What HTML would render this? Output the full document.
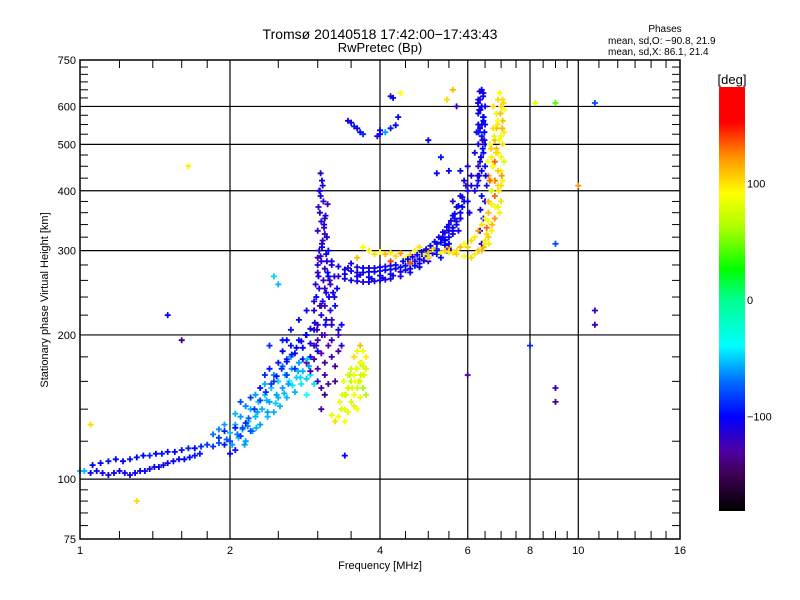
<!DOCTYPE html>
<html><head><meta charset="utf-8">
<style>
html,body{margin:0;padding:0;background:#fff;}
svg{display:block;font-family:"Liberation Sans","DejaVu Sans",sans-serif;}
</style></head>
<body>
<svg id="chart" width="800" height="600" viewBox="0 0 800 600">
<text x="380" y="39" font-size="14" text-anchor="middle">Tromsø 20140518 17:42:00−17:43:43</text>
<text x="380" y="52" font-size="13" text-anchor="middle">RwPretec (Bp)</text>
<text x="665" y="32" font-size="10" text-anchor="middle">Phases</text>
<text x="608" y="44" font-size="10">mean, sd,O: −90.8, 21.9</text>
<text x="608" y="55" font-size="10">mean, sd,X:  86.1, 21.4</text>
<g id="grid"></g>
<g id="ticks"></g>
<g id="marks"></g>
<rect x="80" y="60" width="600" height="479" fill="none" stroke="#000" stroke-width="1.5"/>
<text x="380" y="569" font-size="11" text-anchor="middle">Frequency [MHz]</text>
<text transform="translate(48,300) rotate(-90)" font-size="11" text-anchor="middle">Stationary phase Virtual Height [km]</text>
<defs>
<linearGradient id="cbg" x1="0" y1="1" x2="0" y2="0">
<stop offset="0" stop-color="#000"/>
<stop offset="0.083" stop-color="#3c0050"/>
<stop offset="0.139" stop-color="#5000a0"/>
<stop offset="0.222" stop-color="#0000ff"/>
<stop offset="0.306" stop-color="#006eff"/>
<stop offset="0.389" stop-color="#00ffff"/>
<stop offset="0.5" stop-color="#00ff8c"/>
<stop offset="0.569" stop-color="#00ff00"/>
<stop offset="0.667" stop-color="#aaff00"/>
<stop offset="0.75" stop-color="#ffff00"/>
<stop offset="0.833" stop-color="#ff9600"/>
<stop offset="0.917" stop-color="#ff0000"/>
<stop offset="1" stop-color="#ff0000"/>
</linearGradient>
</defs>
<rect x="719" y="87" width="26" height="424" fill="url(#cbg)"/>
<text x="732" y="84" font-size="13" text-anchor="middle">[deg]</text>
<g id="cbticks"></g>
</svg>
<script>
// ---- axis tick data ----
const xMajor = [1, 2, 4, 6, 8, 10, 16];
const xGrid = [2, 4, 6, 8, 10];
const xMinor = [1.2, 1.4, 1.6, 1.8, 2.5, 3, 3.5, 4.5, 5, 5.5, 6.5, 7, 7.5, 8.5, 9, 9.5, 11, 12, 13, 14, 15];
const yMajor = [75, 100, 200, 300, 400, 500, 600, 750];
const yGrid = [100, 200, 300, 400, 500, 600];
const yMinor = [80, 85, 90, 95, 120, 140, 160, 180, 220, 240, 260, 280, 320, 340, 360, 380, 425, 450, 475, 525, 550, 575, 625, 650, 675, 700, 725];
const cbLabels = [100, 0, -100];

// ---- echo data: frequency [MHz], height [km], phase [deg] ----
const fELow = [1.0,1.02,1.05,1.08,1.11,1.14,1.17,1.2,1.23,1.26,1.29,1.32,1.35,1.38,1.41,1.44,1.47,1.5,1.54,1.58,1.62,1.66,1.7,1.74];
const hELow = [104,104,103,104,103,102,103,104,103,102,103,104,104,105,106,106,107,108,109,110,110,111,112,113];
const pELow = [-55,-55,-105,-105,-105,-105,-105,-105,-105,-105,-105,-100,-105,-105,-105,-100,-105,-105,-100,-105,-100,-100,-95,-95];

const fEHigh = [1.06,1.1,1.14,1.18,1.22,1.26,1.3,1.34,1.38,1.42,1.46,1.5,1.55,1.6,1.65,1.7,1.75,1.8,1.85,1.9];
const hEHigh = [107,108,109,110,109,110,111,112,112,113,113,114,114,115,116,116,117,118,117,119];
const pEHigh = [-100,-100,-95,-100,-100,-95,-100,-100,-90,-100,-95,-100,-100,-95,-90,-100,-90,-85,-85,-80];

const fERise = [2.0,2.02,2.05,2.08,2.1,2.12,2.15,2.18,2.2,2.22,2.25,2.28,2.3,2.32,2.35,2.38,2.4,2.42,2.45,2.48,2.5,2.52,2.55,2.58,2.6,2.63,2.66,2.7,2.72,2.75,2.78,2.8,2.85,2.88,2.9,1.85,1.9,1.95,2.05,2.15,2.25,2.35,2.45,2.55,2.65,2.85,2.95,2.5,2.45,1.97,2.07,2.17,2.27,2.37,2.47,2.57,2.67,2.77];
const hERise = [125,118,130,122,135,127,120,132,140,126,135,145,130,140,150,135,145,155,138,150,160,142,155,165,148,160,170,152,163,175,158,168,162,172,165,124,127,130,137,142,150,158,165,172,180,150,158,255,265,121,124,129,138,146,144,151,157,163];
const pERise = [-55,-60,-55,-50,-60,-55,-60,-50,-55,-60,-55,-50,-60,-55,-50,-55,-60,-50,-55,-60,-50,-55,-60,-50,-55,-45,-60,-55,-50,-60,-45,-55,-50,-60,-45,-70,-65,-60,-55,-65,-60,-55,-65,-70,-60,-40,-45,-55,-50,-75,-70,-65,-60,-55,-50,-55,-45,-50];

const fEBlue = [2.3,2.35,2.4,2.45,2.5,2.55,2.6,2.65,2.7,2.75,2.8,2.85,2.9,2.95,2.6,2.7,2.8,2.9,3.0,2.2,2.1,1.95,2.0,2.05,2.75,2.85,2.65,2.95,2.4,2.55];
const hEBlue = [155,165,170,160,175,185,178,190,183,195,188,200,192,205,165,170,178,180,185,148,145,118,113,115,215,225,205,235,190,195];
const pEBlue = [-95,-90,-95,-85,-95,-100,-90,-95,-100,-95,-100,-95,-105,-100,-85,-90,-95,-100,-105,-85,-80,-95,-100,-95,-100,-105,-95,-110,-90,-95];

const fEPurple = [2.85,2.9,2.95,3.0,3.0,3.05,3.1,3.1,3.15,3.2,3.25,3.3,3.05,3.1,3.0,3.1,3.2,3.25,3.15,2.95,3.35,3.3,3.2,3.05];
const hEPurple = [175,168,178,170,160,183,175,165,190,180,172,185,155,150,195,200,195,160,158,190,190,200,210,140];
const pEPurple = [-130,-125,-135,-130,-120,-130,-135,-125,-130,-120,-135,-125,-130,-140,-125,-130,-120,-135,-130,-125,-115,-120,-110,-135];

const fF1 = [3.0,3.05,3.1,2.98,3.02,3.08,3.12,3.0,3.05,3.1,3.15,3.02,3.07,3.12,3.0,3.05,3.1,3.03,3.08,3.02,3.06,3.04,3.1,3.15,3.2,3.2,3.25,3.3,3.35,2.95,3.18,3.22,3.0,3.06,3.13,3.01,3.09,3.04,3.14,3.03,3.07,2.97,3.11,3.16,3.24,3.28];
const hF1 = [210,220,230,240,250,260,245,270,285,275,265,300,315,295,330,345,325,360,380,400,420,435,350,300,280,215,230,205,210,225,255,245,290,305,285,370,340,390,270,230,235,255,210,240,265,250];
const pF1 = [-120,-110,-125,-100,-115,-120,-105,-125,-110,-120,-100,-115,-125,-105,-120,-110,-125,-115,-120,-110,-105,-115,-125,-100,-110,-120,-95,-105,-100,-115,-120,-110,-125,-100,-115,-120,-110,-105,-100,-120,-110,-115,-100,-105,-110,-100];

const fF2O = [3.2,3.3,3.4,3.5,3.6,3.7,3.8,3.9,4.0,4.1,4.2,4.3,4.4,4.5,4.6,4.7,4.8,4.9,5.0,5.1,5.2,5.3,5.4,5.5,5.6,5.7,5.8,5.9,6.0,
 3.3,3.4,3.5,3.6,3.7,3.8,3.9,4.0,4.1,4.2,4.4,4.6,4.8,5.0,5.2,5.4,5.6,5.8,6.0,6.1,
 3.4,3.6,3.8,4.0,4.2,4.4,4.6,4.8,5.0,5.2,5.4,5.6,5.8,6.0,6.1,5.9,5.7,5.5,
 3.45,3.65,3.85,4.05,4.25,4.5,4.7,4.9,5.1,5.3,5.5,5.65,5.85,5.95,5.45,5.35,5.75,5.55,6.05,5.6,5.8];
const hF2O = [285,278,274,272,270,270,271,271,272,273,274,275,277,279,282,285,288,292,297,303,310,318,327,340,355,370,390,420,450,
 265,262,260,259,258,258,259,260,261,262,265,270,277,285,295,308,325,350,380,410,
 268,265,264,266,268,271,275,282,290,302,316,335,360,400,430,380,345,320,
 276,267,262,263,266,273,279,286,296,312,330,350,370,410,300,320,330,300,360,380,440];
const pF2O = [-110,-105,-100,-105,-110,-100,-105,-100,-110,-105,-100,-110,-105,-100,-105,-110,-100,-105,-100,-110,-105,-100,-110,-105,-100,-110,-105,-100,-110,
 -115,-110,-105,-110,-115,-105,-110,-100,-110,-105,-110,-105,-100,-110,-105,-100,-110,-105,-100,-110,
 -105,-100,-105,-100,-95,-105,-100,-105,-110,-100,-105,-110,-100,-105,-110,-100,-95,-105,
 -120,-110,-105,-100,-110,-105,-100,-110,-105,-100,-110,-105,-100,-120,-95,-105,-110,-100,-105,-115,-100];

const fOVert = [6.3,6.4,6.35,6.45,6.3,6.4,6.35,6.45,6.3,6.4,6.35,6.45,6.4,6.5,6.5,6.5,6.5,6.3,6.3,6.3,6.2,6.25,6.55,6.5,6.2,6.4,6.45,6.35,6.3,6.4,6.38,6.42,6.33,6.48,6.28,6.36,6.44];
const hOVert = [420,440,460,480,500,520,540,560,580,600,620,640,650,450,500,550,600,450,550,620,480,530,410,380,400,390,350,330,300,310,470,510,590,530,430,365,570];
const pOVert = [-105,-100,-110,-100,-105,-95,-110,-100,-105,-100,-110,-105,-100,-95,-110,-100,-105,-120,-100,-105,-110,-100,-95,-105,-110,-100,-95,-105,-100,-110,-100,-110,-105,-100,-115,-105,-100];

const fF2X = [3.8,3.9,4.0,4.1,4.2,4.3,4.4,4.5,4.6,4.7,4.8,4.9,5.0,5.1,5.2,5.3,5.4,5.5,5.6,5.7,5.8,5.9,6.0,6.1,6.2,6.3,6.4,6.5,6.6,6.7,6.8,6.9,7.0,7.0,7.05,7.1,7.05,7.1,6.9,6.8,6.7,6.6,6.5,6.4,6.9,7.0,6.8,6.9,7.0,6.85,7.0,6.7,6.75,4.2,4.6,5.0,3.6,3.7,
 6.6,6.7,6.8,6.65,6.75,6.85,6.95,7.05,6.6,6.7,6.8,6.9,7.1,7.0,6.55,6.6,6.9,7.05,6.95,6.85,6.75];
const hF2X = [300,295,298,295,297,292,296,290,294,300,305,295,298,302,300,296,300,305,297,300,305,310,305,315,320,330,340,350,360,375,390,410,440,470,500,530,560,590,620,350,330,320,310,300,370,380,420,480,520,540,600,400,450,285,283,290,290,305,
 380,420,460,500,540,580,640,620,430,470,510,560,460,410,335,345,440,420,360,490,600];
const pF2X = [95,100,90,110,95,100,120,90,105,95,100,85,110,95,100,90,105,120,95,100,110,90,105,100,95,120,100,90,110,95,130,100,90,85,100,95,110,90,100,120,95,105,90,110,80,100,130,95,85,110,100,70,95,140,130,100,110,90,
 110,95,130,85,100,80,90,100,120,95,110,90,75,100,130,90,105,80,95,110,100];

const fEX = [3.3,3.35,3.4,3.45,3.5,3.55,3.6,3.65,3.7,3.75,3.5,3.55,3.6,3.65,3.45,3.55,3.65,3.7,3.75,3.7,3.6,3.5,3.25,3.2,3.4,3.6,3.75,3.45,3.55,3.65,3.4,3.7];
const hEX = [135,140,132,138,145,150,155,160,165,170,160,165,170,175,155,142,148,155,180,185,185,170,132,136,150,140,150,165,180,190,140,172];
const pEX = [85,70,90,80,75,85,70,80,90,75,65,85,80,70,90,75,85,60,95,85,80,70,100,80,75,90,60,80,100,110,85,70];

const fScat = [3.5,3.55,3.6,3.65,3.7,3.45,4.0,4.1,4.2,4.3,4.0,3.95,4.35,4.2,4.25,5.0,5.3,5.5,5.2,1.65,1.5,2.6,9.0,9.0,9.0,10.8,10.8,8.0,10.0,8.2,9.0,10.8,6.0,1.3,1.05,3.4,1.6,5.6,5.7,5.45,4.4];
const hScat = [555,545,540,530,525,560,525,530,540,548,535,520,570,630,625,510,470,440,435,450,220,195,310,155,145,210,225,190,410,610,610,610,165,90,130,112,195,650,600,620,640];
const pScat = [-100,-95,-105,-100,-90,-110,-100,-60,-95,-100,-105,-110,-100,-120,-100,-100,-95,-105,-100,95,-100,-100,-80,-120,-140,-120,-120,-90,120,80,40,-80,-130,100,100,-100,-140,110,-120,100,90];

// extra densification of the main traces
const fExtra = [2.12,2.18,2.24,2.3,2.36,2.42,2.48,2.54,2.6,2.66,2.72,2.78,2.84,2.9,2.96,2.14,2.26,2.38,2.5,2.62,2.74,2.86,2.98,3.06,3.12,3.18,3.24,
 2.99,3.01,3.04,3.06,3.09,3.11,3.14,3.03,3.07,3.1,3.05,3.0,3.13,3.17,
 3.5,3.6,3.7,3.8,3.9,4.0,4.1,4.2,4.3,4.45,4.55,4.65,4.75,4.85,4.95,5.05,5.15,5.25,5.35,5.45,5.55,5.65,5.75,5.85,5.2,5.4,5.6,5.8,5.5,5.7,5.3,
 6.27,6.33,6.38,6.43,6.48,6.31,6.41,6.46,6.36,6.29,6.52,6.34,6.44,
 6.62,6.72,6.82,6.92,7.02,6.58,6.68,6.78,6.88,6.98,7.08,6.64,6.74,6.84,6.94,7.04,6.55,6.5,6.45,6.3,6.2,6.1,5.9,5.7,5.5,
 3.38,3.48,3.58,3.68,3.42,3.52,3.62,3.72,3.32,3.36,3.46,3.56,3.66,
 1.9,1.95,2.0,2.05,2.1,2.15,2.2];
const hExtra = [128,134,140,146,152,158,164,170,176,182,188,194,200,206,212,118,128,138,148,158,168,178,190,200,215,225,240,
 205,265,292,310,335,355,375,400,410,250,230,280,320,260,
 282,277,276,276,276,277,278,279,280,285,288,291,294,298,302,307,313,320,328,336,346,358,372,388,300,315,330,350,310,340,290,
 410,430,470,490,510,530,550,570,590,610,430,645,630,
 310,340,370,400,430,460,490,520,550,580,610,420,450,480,510,540,325,315,305,300,295,290,292,295,298,
 160,165,170,175,150,155,160,165,145,150,155,160,165,
 122,126,120,128,123,131,126];
const pExtra = [-80,-75,-85,-80,-90,-85,-95,-90,-100,-95,-100,-105,-100,-110,-105,-60,-55,-60,-55,-60,-55,-50,-115,-120,-110,-115,-105,
 -120,-110,-125,-115,-120,-110,-125,-115,-110,-120,-125,-115,-110,-120,
 -105,-110,-100,-105,-110,-100,-105,-110,-100,-105,-100,-110,-105,-100,-110,-105,-100,-110,-105,-100,-110,-105,-100,-110,-95,-100,-105,-110,-100,-105,-95,
 -100,-110,-105,-100,-110,-95,-105,-100,-110,-105,-100,-110,-105,
 95,110,85,100,120,90,105,80,95,110,100,130,90,100,85,110,100,95,110,105,95,100,90,105,95,
 80,70,85,90,75,80,70,95,85,80,75,90,70,
 -85,-90,-80,-95,-85,-90,-80];

// ---- scales ----
const X = f => 80 + 150 * Math.log2(f);
const Y = h => 539 - 479 * Math.log10(h / 75);
const CB = p => 300 - 1.165 * p;
const NS = "http://www.w3.org/2000/svg";
const stops = [[-180,0,0,0],[-150,60,0,80],[-130,80,0,160],[-100,0,0,255],[-70,0,110,255],[-40,0,255,255],[0,0,255,140],[25,0,255,0],[60,170,255,0],[90,255,255,0],[120,255,150,0],[150,255,0,0],[180,255,0,0]];
function phaseColor(p){
  for(let i=0;i<stops.length-1;i++){
    const a=stops[i],b=stops[i+1];
    if(p<=b[0]){const t=Math.max(0,(p-a[0])/(b[0]-a[0]));
      return `rgb(${Math.round(a[1]+t*(b[1]-a[1]))},${Math.round(a[2]+t*(b[2]-a[2]))},${Math.round(a[3]+t*(b[3]-a[3]))})`;}
  }
  return "rgb(255,0,0)";
}
function mk(tag, attrs, parent){const e=document.createElementNS(NS,tag);for(const k in attrs)e.setAttribute(k,attrs[k]);parent.appendChild(e);return e;}

const grid=document.getElementById('grid'), ticks=document.getElementById('ticks'), marks=document.getElementById('marks'), cbt=document.getElementById('cbticks');

xGrid.forEach(v=>{const l=mk('line',{x1:X(v),x2:X(v),y1:60,y2:539,stroke:'#000','stroke-width':1.2},grid);

});
yGrid.forEach(v=>{const l=mk('line',{x1:80,x2:680,y1:Y(v),y2:Y(v),stroke:'#000','stroke-width':1.2},grid);

});
xMinor.forEach(v=>{const x=X(v);
const a=mk('line',{x1:x,x2:x,y1:539,y2:531,stroke:'#000'},ticks);


const b=mk('line',{x1:x,x2:x,y1:60,y2:68,stroke:'#000'},ticks);

});
yMinor.forEach(v=>{const y=Y(v);
const a=mk('line',{x1:80,x2:88,y1:y,y2:y,stroke:'#000'},ticks);


const b=mk('line',{x1:680,x2:672,y1:y,y2:y,stroke:'#000'},ticks);

});
xMajor.forEach(v=>{const t=mk('text',{x:X(v),y:554,'font-size':11,'text-anchor':'middle'},ticks);t.textContent=v;

});
yMajor.forEach(v=>{const t=mk('text',{x:76,y:Y(v)+4,'font-size':11,'text-anchor':'end'},ticks);t.textContent=v;

});
cbLabels.forEach(v=>{const t=mk('text',{x:747,y:CB(v)+4,'font-size':11},cbt);t.textContent=v===-100?'−100':v;

});

function drawSeries(fs,hs,ps,name){
  for(let i=0;i<fs.length;i++){
    const x=X(fs[i]), y=Y(hs[i]), c=phaseColor(ps[i]);
    const g=mk('path',{d:`M${(x-3).toFixed(1)} ${y.toFixed(1)}h6M${x.toFixed(1)} ${(y-3).toFixed(1)}v6`,stroke:c,'stroke-width':1.8,fill:'none'},marks);
    
    
  }
}
drawSeries(fELow,hELow,pELow,'e-trace-low-point');
drawSeries(fEHigh,hEHigh,pEHigh,'e-trace-high-point');
drawSeries(fERise,hERise,pERise,'e-rise-point');
drawSeries(fEBlue,hEBlue,pEBlue,'e-blue-point');
drawSeries(fEPurple,hEPurple,pEPurple,'e-purple-point');
drawSeries(fF1,hF1,pF1,'f1-cusp-point');
drawSeries(fF2O,hF2O,pF2O,'f2-o-trace-point');
drawSeries(fOVert,hOVert,pOVert,'f2-o-critical-point');
drawSeries(fF2X,hF2X,pF2X,'f2-x-trace-point');
drawSeries(fEX,hEX,pEX,'e-x-trace-point');
drawSeries(fExtra,hExtra,pExtra,'trace-extra-point');
drawSeries(fScat,hScat,pScat,'scatter-point');
</script>
</body></html>
